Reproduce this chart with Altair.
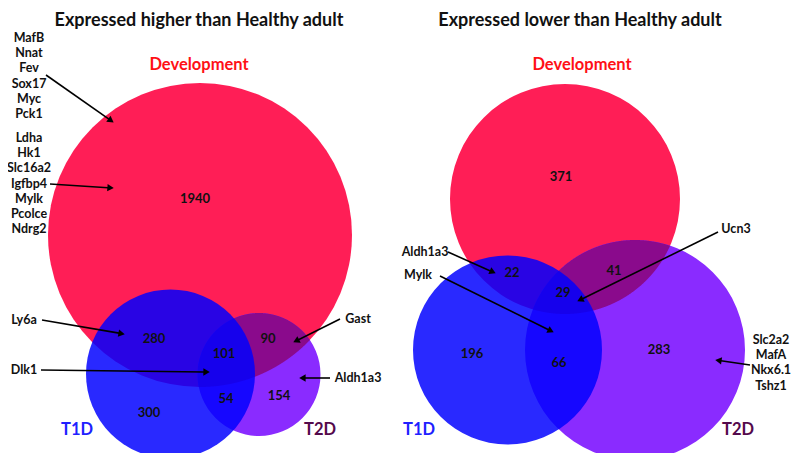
import math
import numpy as np
import pandas as pd
import altair as alt

# ---------------- data ----------------
panel_titles = ["Expressed higher than Healthy adult", "Expressed lower than Healthy adult"]
set_names = ["Development", "T1D", "T2D"]
# region order: Dev only, Dev&T1D, Dev&T2D, all three, T1D only, T1D&T2D, T2D only
higher_counts = [1940, 280, 90, 101, 300, 54, 154]
lower_counts = [371, 22, 41, 29, 196, 66, 283]

higher_genes_a = ["MafB", "Nnat", "Fev", "Sox17", "Myc", "Pck1"]
higher_genes_b = ["Ldha", "Hk1", "Slc16a2", "Igfbp4", "Mylk", "Pcolce", "Ndrg2"]
higher_single = ["Ly6a", "Dlk1", "Gast", "Aldh1a3"]
lower_single = ["Aldh1a3", "Mylk", "Ucn3"]
lower_genes_t2d = ["Slc2a2", "MafA", "Nkx6.1", "Tshz1"]

# ---------------- layout (pixel positions) ----------------
FONT = "Lato"
# circles: (cx, cy, r) for Development, T1D, T2D
circ_left = [(200, 235, 152), (170.5, 374, 84.5), (259, 374.5, 61.5)]
circ_right = [(565, 199, 115), (507.5, 350, 94.5), (635, 350, 110)]
col_dev, col_t1d, col_t2d, col_lens = "#FF1E56", "#0000FF", "#8A2BFF", "#8A0A8C"

title_pos = [(199, 21), (580, 21)]
setlab_left = [(199, 65), (77, 430), (320, 430)]
setlab_right = [(582, 65), (419, 430), (738, 430)]
setlab_colors = ["#FF1016", "#2020FF", "#540A4C"]

num_pos_left = [(195, 199), (154, 339), (268, 339), (224, 354), (149, 413), (226, 399), (279, 396)]
num_pos_right = [(561, 177), (512, 273), (614, 271), (563, 293), (472, 354), (559, 363), (659, 350)]

genes_a_y0, genes_b_y0, gene_dy, genes_x = 38, 138, 15.2, 29
single_left_pos = [(24, 320), (24, 370), (358, 319), (358, 378)]
single_right_pos = [(425, 252), (418, 275), (736, 229)]
t2d_genes_x, t2d_genes_y0 = 771, 340

arrows = [  # x1, y1, x2(tip), y2(tip)
    (46, 75, 113, 122),
    (50, 184, 113, 188),
    (42, 320, 124, 334),
    (41, 370, 209, 372),
    (340, 319, 294, 342),
    (330, 378, 300, 378),
    (448, 252, 495, 273),
    (440, 276, 553, 332),
    (718, 232, 578, 301),
    (750, 365, 716, 360),
]

# ---------------- build tables ----------------
circles = []
for panel, circs in enumerate([circ_left, circ_right]):
    for name, (cx, cy, r), col in zip(set_names, circs, [col_dev, col_t1d, col_t2d]):
        # Vega symbol size = area of the bounding square
        circles.append({"panel": panel, "set": name, "x": cx, "y": cy,
                        "size": (2 * r) ** 2, "color": col})
circ_df = pd.DataFrame(circles)


def lens(c1, c2, key, n=500):
    (ax, ay, ar), (bx, by, br) = c1, c2
    x0, x1 = max(ax - ar, bx - br), min(ax + ar, bx + br)
    rows = []
    for x in np.linspace(x0, x1, n):
        ha = math.sqrt(max(ar * ar - (x - ax) ** 2, 0))
        hb = math.sqrt(max(br * br - (x - bx) ** 2, 0))
        lo, hi = max(ay - ha, by - hb), min(ay + ha, by + hb)
        if hi >= lo:
            rows.append({"lens": key, "x": x, "y": lo, "y2": hi})
    return rows


lens_df = pd.DataFrame(lens(circ_left[0], circ_left[2], "L") + lens(circ_right[0], circ_right[2], "R"))

texts = []
for t, (x, y) in zip(panel_titles, title_pos):
    texts.append({"x": x, "y": y, "text": t, "color": "#111111", "size": 18})
for labs in [setlab_left, setlab_right]:
    for name, (x, y), col in zip(set_names, labs, setlab_colors):
        texts.append({"x": x, "y": y, "text": name, "color": col, "size": 16.5})
for counts, poss in [(higher_counts, num_pos_left), (lower_counts, num_pos_right)]:
    for c, (x, y) in zip(counts, poss):
        texts.append({"x": x, "y": y, "text": str(c), "color": "#111111", "size": 13})
for i, g in enumerate(higher_genes_a):
    texts.append({"x": genes_x, "y": genes_a_y0 + i * gene_dy, "text": g, "color": "#111111", "size": 12.5})
for i, g in enumerate(higher_genes_b):
    texts.append({"x": genes_x, "y": genes_b_y0 + i * gene_dy, "text": g, "color": "#111111", "size": 12.5})
for g, (x, y) in zip(higher_single + lower_single, single_left_pos + single_right_pos):
    texts.append({"x": x, "y": y, "text": g, "color": "#111111", "size": 12.5})
for i, g in enumerate(lower_genes_t2d):
    texts.append({"x": t2d_genes_x, "y": t2d_genes_y0 + i * gene_dy, "text": g, "color": "#111111", "size": 12.5})
text_df = pd.DataFrame(texts)

lines, heads = [], []
for x1, y1, x2, y2 in arrows:
    dx, dy = x2 - x1, y2 - y1
    L = math.hypot(dx, dy)
    ux, uy = dx / L, dy / L
    lines.append({"x": x1, "y": y1, "x2": x2 - 5 * ux, "y2": y2 - 5 * uy})
    ang = math.degrees(math.atan2(dx, -dy)) % 360
    heads.append({"x": x2 - 3.5 * ux, "y": y2 - 3.5 * uy, "angle": ang})
line_df = pd.DataFrame(lines)
head_df = pd.DataFrame(heads)

# ---------------- chart ----------------
xs = alt.Scale(domain=[8, 792])
ys = alt.Scale(domain=[8, 453], reverse=True)
X = lambda f="x": alt.X(f"{f}:Q", scale=xs, axis=None)
Y = lambda f="y": alt.Y(f"{f}:Q", scale=ys, axis=None)

def circle_layer(setname, opacity):
    return alt.Chart(circ_df[circ_df["set"] == setname]).mark_circle(opacity=opacity, strokeWidth=0).encode(
        x=X(), y=Y(), size=alt.Size("size:Q", scale=None), color=alt.Color("color:N", scale=None))

dev = circle_layer("Development", 1)
t2d = circle_layer("T2D", 1)
lens_layer = alt.Chart(lens_df).mark_area(color=col_lens, opacity=1).encode(
    x=X(), y=Y(), y2=alt.Y2("y2:Q"), detail="lens:N")
t1d = circle_layer("T1D", 0.84)

rules = alt.Chart(line_df).mark_rule(color="black", strokeWidth=1.6).encode(
    x=X(), y=Y(), x2="x2:Q", y2="y2:Q")
arrowheads = alt.Chart(head_df).mark_point(shape="triangle", filled=True, color="black", size=55, opacity=1).encode(
    x=X(), y=Y(), angle=alt.Angle("angle:Q", scale=None))

text_layer = alt.Chart(text_df).mark_text(font=FONT, fontWeight="bold", align="center", baseline="middle").encode(
    x=X(), y=Y(), text="text:N", color=alt.Color("color:N", scale=None), size=alt.Size("size:Q", scale=None))

chart = alt.layer(dev, t2d, lens_layer, t1d, rules, arrowheads, text_layer).properties(
    width=784, height=445, padding=0, autosize=alt.AutoSizeParams(type="none")
).configure_view(stroke=None)

chart.save("out.html", embed_options={"renderer": "svg", "actions": False})
